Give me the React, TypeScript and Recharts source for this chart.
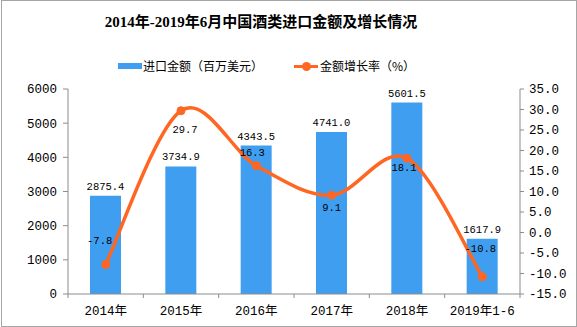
import {
  ComposedChart,
  Bar,
  Line,
  XAxis,
  YAxis,
  LabelList,
} from "recharts";

const years = ["2014年", "2015年", "2016年", "2017年", "2018年", "2019年1-6"];
const importValue = [2875.4, 3734.9, 4343.5, 4741.0, 5601.5, 1617.9];
const growthRate = [-7.8, 29.7, 16.3, 9.1, 18.1, -10.8];
const leftTicks = [0, 1000, 2000, 3000, 4000, 5000, 6000];
const rightTicks = [-15, -10, -5, 0, 5, 10, 15, 20, 25, 30, 35];

const data = years.map((year, i) => ({
  year,
  value: importValue[i],
  growth: growthRate[i],
}));

const BLUE = "#409ef0";
const ORANGE = "#ff6622";
const AXIS = "#8c8c8c";
const MONO = "'Liberation Mono', 'Noto Sans CJK SC', monospace";
const CJK = "'Noto Sans CJK SC', sans-serif";

// Excel-like smooth line (catmull-rom style bezier)
const smoothCurve = (context: any) => {
  let pts: number[][] = [];
  return {
    areaStart() {},
    areaEnd() {},
    lineStart() {
      pts = [];
    },
    point(x: number, y: number) {
      pts.push([+x, +y]);
    },
    lineEnd() {
      if (!pts.length) return;
      context.moveTo(pts[0][0], pts[0][1]);
      for (let i = 0; i < pts.length - 1; i++) {
        const p0 = pts[Math.max(i - 1, 0)];
        const p1 = pts[i];
        const p2 = pts[i + 1];
        const p3 = pts[Math.min(i + 2, pts.length - 1)];
        context.bezierCurveTo(
          p1[0] + (p2[0] - p0[0]) / 6,
          p1[1] + (p2[1] - p0[1]) / 6,
          p2[0] - (p3[0] - p1[0]) / 6,
          p2[1] - (p3[1] - p1[1]) / 6,
          p2[0],
          p2[1]
        );
      }
    },
  };
};

// label placement for the growth line, per point
const growthLabelOffset = [
  [-6, -23],
  [4, 19],
  [-4, -13],
  [0, 13],
  [-3, 10],
  [-2, -28],
];

const XTick = (props: any) => {
  const { x, y, payload, index } = props;
  const half = (520 - 68) / 6 / 2;
  return (
    <g>
      <line x1={x - half} x2={x - half} y1={y} y2={y + 4} stroke={AXIS} />
      {index === years.length - 1 && (
        <line x1={x + half} x2={x + half} y1={y} y2={y + 4} stroke={AXIS} />
      )}
      <text
        x={x}
        y={y + 18}
        textAnchor="middle"
        dominantBaseline="central"
        fontSize={12.5}
        fontFamily={MONO}
        fill="#000"
      >
        {payload.value}
      </text>
    </g>
  );
};

const BarValueLabel = (props: any) => {
  const { x, y, width, value } = props;
  return (
    <text
      x={x + width / 2}
      y={y - 9}
      textAnchor="middle"
      dominantBaseline="central"
      fontSize={10.5}
      fontFamily={MONO}
      fill="#000"
    >
      {Number(value).toFixed(1)}
    </text>
  );
};

const GrowthLabel = (props: any) => {
  const { x, y, value, index } = props;
  const [dx, dy] = growthLabelOffset[index] || [0, -12];
  return (
    <text
      x={x + dx}
      y={y + dy}
      textAnchor="middle"
      dominantBaseline="central"
      fontSize={10.5}
      fontFamily={MONO}
      fill="#000"
    >
      {Number(value).toFixed(1)}
    </text>
  );
};

export default function App() {
  return (
    <div
      style={{
        position: "absolute",
        left: 0,
        top: 0,
        width: 577,
        height: 327,
        background: "#fff",
      }}
    >
      {/* outer frame */}
      <div
        style={{
          position: "absolute",
          left: 1,
          top: 0,
          width: 574,
          height: 325,
          border: "1px solid #a6a6a6",
        }}
      />
      {/* title */}
      <div
        style={{
          position: "absolute",
          left: 0,
          top: 12,
          width: 522,
          textAlign: "center",
          fontSize: 15,
          fontWeight: "bold",
          lineHeight: "20px",
          fontFamily: "'Liberation Serif', 'Noto Sans CJK SC', serif",
          color: "#000",
          whiteSpace: "nowrap",
        }}
      >
        2014年-2019年6月中国酒类进口金额及增长情况
      </div>
      {/* legend */}
      <div style={{ position: "absolute", left: 118, top: 63, width: 24, height: 6, background: BLUE }} />
      <div
        style={{
          position: "absolute",
          left: 143,
          top: 58,
          fontSize: 12,
          lineHeight: "16px",
          fontFamily: CJK,
          color: "#000",
          whiteSpace: "nowrap",
        }}
      >
        进口金额（百万美元）
      </div>
      <div style={{ position: "absolute", left: 294, top: 65, width: 24, height: 3, background: ORANGE }} />
      <div
        style={{
          position: "absolute",
          left: 302,
          top: 62,
          width: 9,
          height: 9,
          borderRadius: "50%",
          background: ORANGE,
        }}
      />
      <div
        style={{
          position: "absolute",
          left: 320,
          top: 58,
          fontSize: 12,
          lineHeight: "16px",
          fontFamily: CJK,
          color: "#000",
          whiteSpace: "nowrap",
        }}
      >
        金额增长率（%）
      </div>

      <div style={{ position: "absolute", left: 0, top: 0 }}>
        <ComposedChart
          width={577}
          height={327}
          data={data}
          margin={{ top: 89, right: 0, bottom: 0, left: 0 }}
        >
          <XAxis
            dataKey="year"
            height={33}
            interval={0}
            stroke={AXIS}
            tickLine={false}
            tickSize={0}
            tickMargin={0}
            tick={<XTick />}
          />
          <YAxis
            yAxisId="left"
            orientation="left"
            width={68}
            domain={[0, 6000]}
            ticks={leftTicks}
            interval={0}
            stroke={AXIS}
            tickSize={5}
            tickMargin={6}
            tick={{ fontSize: 12.5, fill: "#000", fontFamily: MONO }}
          />
          <YAxis
            yAxisId="right"
            orientation="right"
            width={57}
            domain={[-15, 35]}
            ticks={rightTicks}
            interval={0}
            stroke={AXIS}
            tickSize={4}
            tickMargin={5}
            tickFormatter={(v: number) => v.toFixed(1)}
            tick={{ fontSize: 12.5, fill: "#000", fontFamily: MONO }}
          />
          <Bar
            yAxisId="left"
            dataKey="value"
            fill={BLUE}
            barSize={31}
            isAnimationActive={false}
          >
            <LabelList dataKey="value" content={<BarValueLabel />} />
          </Bar>
          <Line
            yAxisId="right"
            dataKey="growth"
            type={smoothCurve as any}
            stroke={ORANGE}
            strokeWidth={3.5}
            dot={{ r: 4, fill: ORANGE, stroke: ORANGE, strokeWidth: 1 }}
            activeDot={false}
            isAnimationActive={false}
          >
            <LabelList dataKey="growth" content={<GrowthLabel />} />
          </Line>
        </ComposedChart>
      </div>
    </div>
  );
}
